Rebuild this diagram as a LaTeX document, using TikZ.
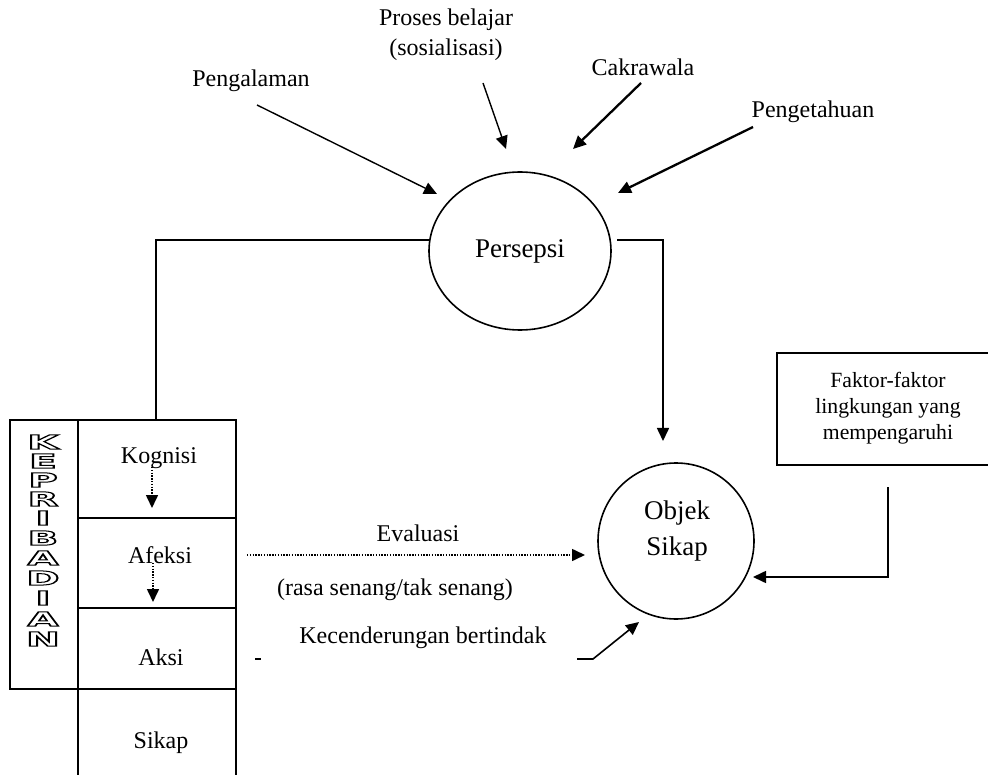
\documentclass[tikz,border=0pt]{standalone}
\usepackage{fontspec}
\setmainfont{Liberation Serif}
\newfontfamily\blockfont{DejaVu Sans Bold}
\usepackage{graphicx}
\usetikzlibrary{arrows.meta,shapes.geometric}

% block letter drawn as an outline only (text render mode 1), stretched sideways
\newcommand{\outl}[1]{\scalebox{2.05}[1]{\special{pdf:literal direct 1 Tr 1.0 w}#1\special{pdf:literal direct 0 Tr}}}

\begin{document}
\begin{tikzpicture}[x=1pt,y=-1pt,line width=1.6pt,
  lbl/.style={inner sep=0pt,font=\fontsize{24}{30}\selectfont},
  bigl/.style={inner sep=0pt,font=\fontsize{27}{36}\selectfont},
  smalll/.style={inner sep=0pt,font=\fontsize{21.7}{26}\selectfont},
  arr/.style={-{Triangle[length=13pt,width=12pt]}},
  thin/.style={line width=1.4pt},
  thick2/.style={line width=2.3pt},
  dotarr/.style={arr,dash pattern=on 1.4pt off 1.4pt,line width=1.6pt},
  letter/.style={inner sep=0pt,font=\blockfont\fontsize{19.5}{20}\selectfont}]
\clip (0,0) rectangle (988,775);
\fill[white] (0,0) rectangle (988,775);

% influences on perception
\node[lbl] (peng) at (251,81) {Pengalaman};
\node[lbl,align=center] (proses) at (446,35) {Proses belajar\\(sosialisasi)};
\node[lbl] (cakra) at (643,67) {Cakrawala};
\node[lbl] (penget) at (813,112) {Pengetahuan};

\node[draw,ellipse,minimum width=182pt,minimum height=158pt,bigl] (persepsi) at (520,251) {Persepsi};

\coordinate (a1s) at (257,105); \coordinate (a1e) at (437,194);
\coordinate (a2s) at (483,83);  \coordinate (a2e) at (506,149);
\coordinate (a3s) at (641,83);  \coordinate (a3e) at (573,149);
\coordinate (a4s) at (753,127); \coordinate (a4e) at (618,193);
\draw[arr,thin] (a1s) -- (a1e);
\draw[arr,thin] (a2s) -- (a2e);
\draw[arr,thick2] (a3s) -- (a3e);
\draw[arr,thick2] (a4s) -- (a4e);

% attitude object
\node[draw,circle,minimum size=156pt,inner sep=0pt] (objek) at (676,541) {};
\node[bigl,align=center] (objektxt) at (677,531) {Objek\\Sikap};

% environment factors
\node[draw,minimum width=224pt,minimum height=112pt,anchor=north west] (faktor) at (776,352) {};
\node[smalll,align=center] (faktortxt) at (888,408) {Faktor-faktor\\lingkungan yang\\mempengaruhi};
\coordinate (fs) at (888,487); \coordinate (fe) at (753,577);
\draw[arr] (fs) |- (fe);

% personality table
\draw (10,420) rectangle (78,689);
\draw (78,420) rectangle (236,689);
\draw (78,518) -- (236,518);
\draw (78,608) -- (236,608);
\draw (78,689) -- (78,780);
\draw (236,689) -- (236,780);

\node[lbl] (kog) at (159,458) {Kognisi};
\node[lbl] (afe) at (160,555) {Afeksi};
\node[lbl] (aksi) at (161,657) {Aksi};
\node[lbl] (sikap) at (161,743) {Sikap};

\foreach \ch/\yy [count=\i] in {K/442,E/461,P/480,R/499,I/518,B/538,A/558,D/578,I/598,A/619,N/639}
  \node[letter] (kp\i) at (43,\yy) {\outl{\ch}};

% perception feeds personality and object
\coordinate (pl) at (429,240); \coordinate (kt) at (156,420);
\coordinate (pr) at (617,240); \coordinate (pt) at (663,441);
\draw (pl) -| (kt);
\draw[arr] (pr) -| (pt);

% inner flow
\coordinate (d1s) at (152,467); \coordinate (d1e) at (152,508);
\coordinate (d2s) at (153,563); \coordinate (d2e) at (153,602);
\draw[dotarr] (d1s) -- (d1e);
\draw[dotarr] (d2s) -- (d2e);

% evaluation and action tendency
\node[lbl] (eval) at (418,533) {Evaluasi};
\node[lbl] (rasa) at (395,590) {(rasa senang/tak senang)};
\node[lbl] (kec) at (423,638) {Kecenderungan bertindak};
\coordinate (es) at (247,555); \coordinate (ee) at (585,555);
\draw[dotarr] (es) -- (ee);
\coordinate (m1) at (255,659); \coordinate (m2) at (261,659);
\draw (m1) -- (m2);
\coordinate (ks) at (577,659); \coordinate (kb) at (593,659); \coordinate (ke) at (639,622);
\draw[arr] (ks) -- (kb) -- (ke);
\end{tikzpicture}
\end{document}
